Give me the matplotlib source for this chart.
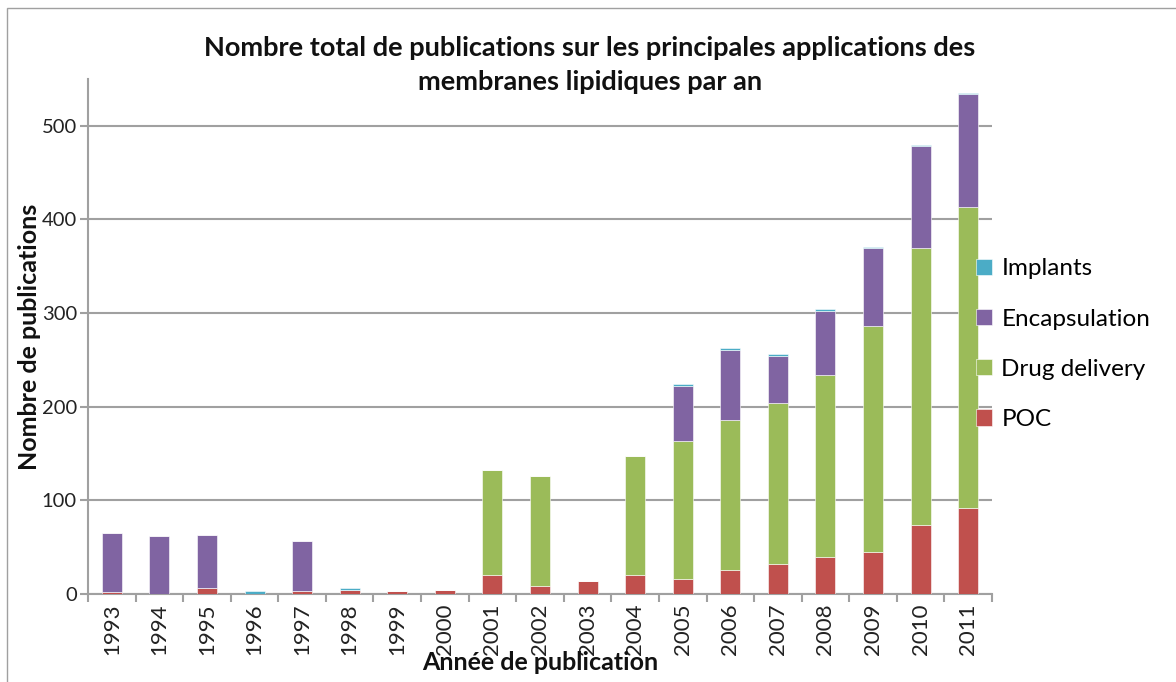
import matplotlib
matplotlib.use('Agg')
import matplotlib.pyplot as plt
from matplotlib.patches import Rectangle
import numpy as np

years = [str(y) for y in range(1993, 2012)]
poc = [2, 0, 6, 0, 3, 4, 3, 4, 20, 9, 14, 20, 16, 26, 32, 40, 45, 74, 92]
drug_delivery = [0, 0, 0, 0, 0, 0, 0, 0, 112, 117, 0, 127, 147, 160, 172, 194, 241, 296, 321]
encapsulation = [63, 62, 57, 0, 54, 0, 0, 0, 0, 0, 0, 0, 59, 75, 50, 68, 83, 108, 121]
implants = [0, 0, 0, 3, 0, 2, 0, 0, 0, 0, 0, 0, 2, 2, 2, 2, 2, 1, 1]

series = [("POC", poc, "#C0504D"),
          ("Drug delivery", drug_delivery, "#9BBB59"),
          ("Encapsulation", encapsulation, "#8064A2"),
          ("Implants", implants, "#4BACC6")]

plt.rcParams['font.family'] = ['Lato', 'DejaVu Sans']

fig = plt.figure(figsize=(11.76, 6.82), dpi=100)
ax = fig.add_axes([88 / 1176, 88 / 682, 904 / 1176, 515 / 682])

x = np.arange(len(years))
bottom = np.zeros(len(years))
handles = []
for name, vals, col in series:
    vals = np.array(vals, dtype=float)
    b = ax.bar(x, vals, width=0.42, bottom=bottom, color=col, label=name,
               edgecolor="white", linewidth=0.4, zorder=3)
    handles.append(b)
    bottom += vals

ax.set_xlim(-0.5, len(years) - 0.5)
ax.set_ylim(0, 550)
ax.set_yticks([0, 100, 200, 300, 400, 500])
ax.set_xticks(x)
ax.set_xticklabels(years, rotation=90, fontsize=16, color="#222222")
ax.set_xticks(np.arange(-0.5, len(years)), minor=True)
ax.tick_params(axis='x', which='major', length=0, pad=7)
ax.tick_params(axis='x', which='minor', length=6, width=1.5, color="#a0a0a0")
ax.tick_params(axis='y', length=6, width=1.5, color="#a0a0a0", labelsize=14.5, labelcolor="#222222", pad=2)

ax.grid(axis='y', color="#a0a0a0", linewidth=1.5, zorder=0)
for s in ["top", "right"]:
    ax.spines[s].set_visible(False)
for s in ["left", "bottom"]:
    ax.spines[s].set_color("#a0a0a0")
    ax.spines[s].set_linewidth(1.5)

ax.set_ylabel("Nombre de publications", fontsize=18, fontweight="bold", color="#111111")
ax.yaxis.set_label_coords(-0.052, 0.5)
ax.set_xlabel("Année de publication", fontsize=18, fontweight="bold", color="#111111", va="top")
ax.xaxis.set_label_coords(0.5, -0.11)

fig.text(590 / 1176, 1 - 65 / 682, "Nombre total de publications sur les principales applications des\nmembranes lipidiques par an",
         ha="center", va="center", fontsize=19.5, fontweight="bold", color="#111111", linespacing=1.5)

ax.legend(handles[::-1], [s[0] for s in series][::-1], loc="center left",
          bbox_to_anchor=(0.958, 0.485), frameon=False, fontsize=17.5,
          handlelength=0.65, handleheight=0.65, labelspacing=1.2, handletextpad=0.4)

fig.patches.append(Rectangle((7 / 1176, -0.1), 1.2, 1 - 8 / 682 + 0.1, transform=fig.transFigure,
                             fill=False, edgecolor="#a0a0a0", linewidth=1.0))

fig.savefig("out.png", dpi=100)
